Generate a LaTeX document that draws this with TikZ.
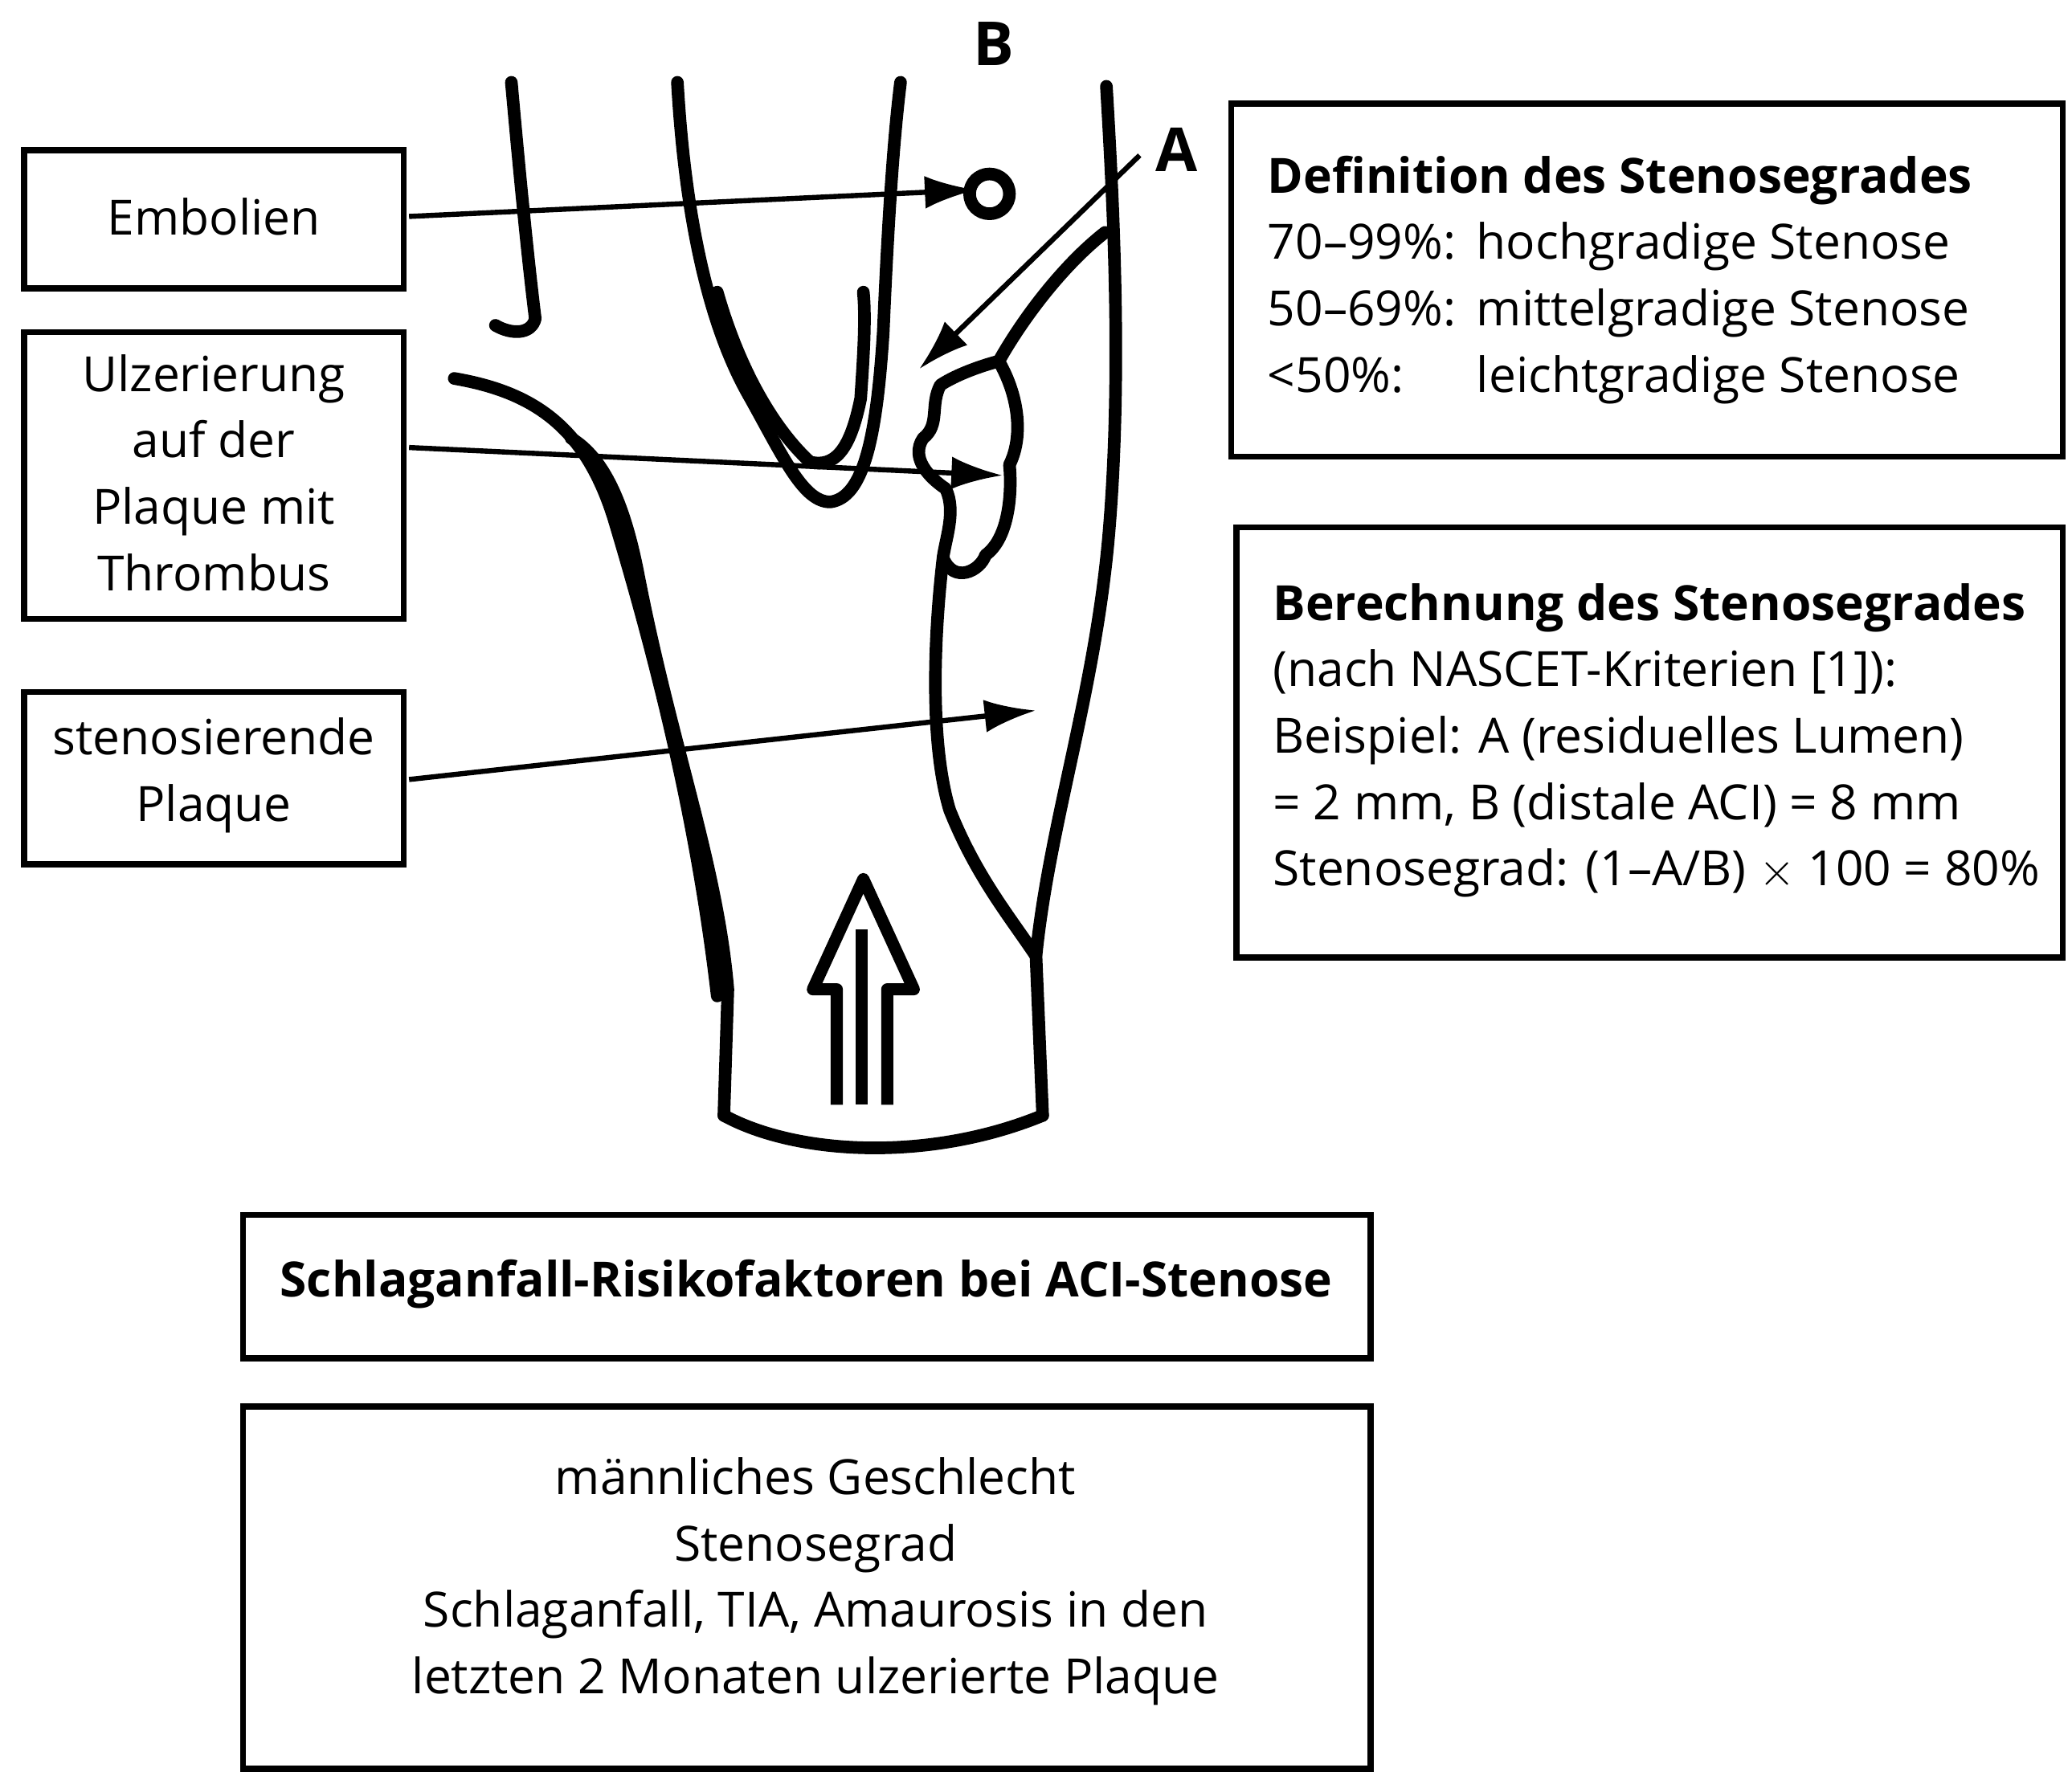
\documentclass[tikz,border=0pt]{standalone}
\usepackage{fontspec}
\setmainfont{Open Sans}
\newcommand{\pl}[1]{\makebox[4.3em][l]{#1}}
\begin{document}
\begin{tikzpicture}[x=0.01cm,y=-0.01cm,
 box/.style={draw,line width=1.3pt,inner sep=0pt},
 txt/.style={font=\fontsize{10.4}{14.2}\selectfont,align=center},
 art/.style={line width=2.7pt,line cap=round,line join=round},
 lab/.style={draw,line width=1.1pt,-{Latex[length=11pt,width=7pt]}}]
\usetikzlibrary{arrows.meta}
\useasboundingbox (0,0) rectangle (1560,1337);
% boxes
\draw[box] (18,113) rectangle (304,217); \node[txt] (emb) at (161,163) {Embolien};
\coordinate (embR) at (308,163);
\draw[box] (18,250) rectangle (304,466); \node[txt] (ulz) at (161,356) {Ulzerierung\\auf der\\Plaque mit\\Thrombus};
\coordinate (ulzR) at (308,337);
\draw[box] (18,521) rectangle (304,651); \node[txt] (sten) at (161,584) {stenosierende\\Plaque};
\coordinate (stenR) at (308,587);
\draw[box] (927,78) rectangle (1553,344);
\node[txt,align=left,anchor=north west] (def) at (942,105) {\textbf{Definition des Stenosegrades}\\\pl{70--99\%:}hochgradige Stenose\\\pl{50--69\%:}mittelgradige Stenose\\\pl{<50\%:}leichtgradige Stenose};
\draw[box] (931,397) rectangle (1553,721);
\node[txt,align=left,anchor=north west] (ber) at (946,427) {\textbf{Berechnung des Stenosegrades}\\(nach NASCET-Kriterien [1]):\\Beispiel: A (residuelles Lumen)\\= 2 mm, B (distale ACI) = 8 mm\\Stenosegrad: (1--A/B) $\times$ 100 = 80\%};
\draw[box] (183,915) rectangle (1032,1023);
\node[txt] (risk) at (607,967) {\textbf{Schlaganfall-Risikofaktoren bei ACI-Stenose}};
\draw[box] (183,1059) rectangle (1032,1332);
\node[txt] (list) at (614,1191) {männliches Geschlecht\\Stenosegrad\\Schlaganfall, TIA, Amaurosis in den\\letzten 2 Monaten ulzerierte Plaque};
\node[txt,font=\fontsize{13}{16}\selectfont\bfseries] (B) at (748,33) {B};
\node[txt,font=\fontsize{13}{16}\selectfont\bfseries] (A) at (886,113) {A};
% artery drawing
\draw[art] (385,62) .. controls (392,140) and (398,200) .. (403,240) .. controls (400,252) and (385,252) .. (373,245);
\draw[art] (342,285) .. controls (400,295) and (440,320) .. (462,390) .. controls (495,500) and (525,620) .. (540,750);
\draw[art] (430,330) .. controls (455,345) and (470,380) .. (480,430) .. controls (505,560) and (540,650) .. (548,745) -- (545,840);
\draw[art] (510,62) .. controls (515,150) and (530,240) .. (565,300) .. controls (590,345) and (605,378) .. (625,378) .. controls (650,375) and (660,330) .. (665,250) .. controls (668,180) and (672,110) .. (678,62);
\draw[art] (540,220) .. controls (560,290) and (590,330) .. (610,348) .. controls (628,352) and (640,340) .. (648,300) .. controls (650,270) and (652,240) .. (650,220);
\draw[art] (833,65) .. controls (838,150) and (845,280) .. (835,400) .. controls (825,520) and (790,620) .. (780,720) -- (785,840);
\draw[art] (832,175) .. controls (800,200) and (770,240) .. (752,272) .. controls (740,275) and (720,282) .. (708,290) .. controls (700,305) and (708,320) .. (695,330) .. controls (685,345) and (700,360) .. (712,368) .. controls (720,385) and (712,405) .. (710,420) .. controls (718,440) and (738,430) .. (742,418) .. controls (760,405) and (762,370) .. (760,350) .. controls (770,330) and (768,300) .. (752,272);
\draw[art] (710,420) .. controls (703,480) and (700,560) .. (715,610) .. controls (735,660) and (760,690) .. (780,720);
\draw[art] (545,840) .. controls (600,870) and (700,875) .. (785,840);
\draw[art] (745,146) circle (15);
\draw[line width=2.6pt,line join=round] (630,832) -- (630,745) -- (612,745) -- (650,662) -- (688,745) -- (668,745) -- (668,832);
\draw[line width=2.6pt] (649,700) -- (649,832);
% arrows
\draw[lab] (embR) -- (735,143);
\draw[lab] (ulzR) -- (755,358);
\draw[lab] (stenR) -- (780,535);
\coordinate (Atail) at (858,117);
\draw[lab] (Atail) -- (692,278);
\end{tikzpicture}
\end{document}
